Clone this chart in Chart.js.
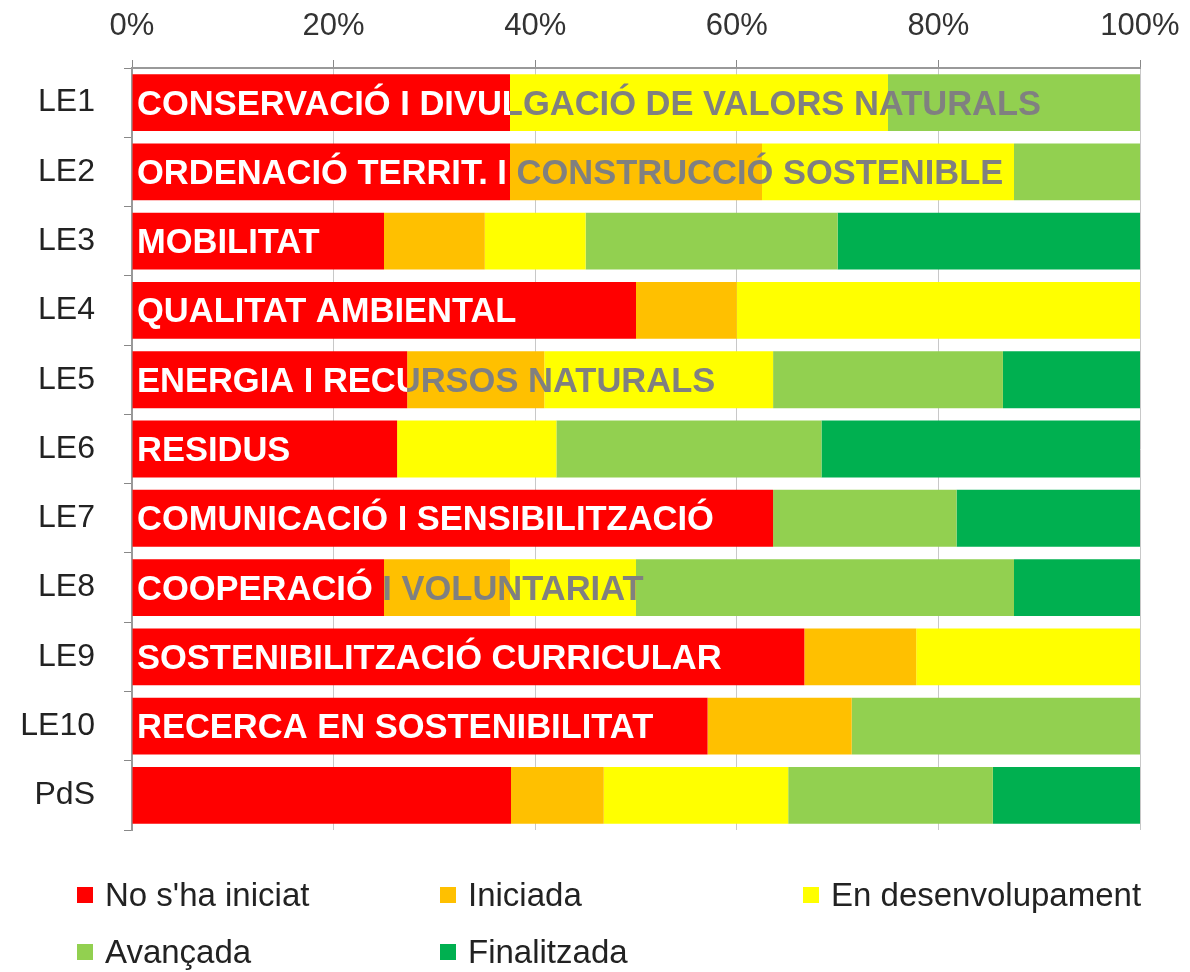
<!DOCTYPE html>
<html>
<head>
<meta charset="utf-8">
<script src="https://cdn.jsdelivr.net/npm/chart.js@4"></script>
<style>
  body { margin: 0; background: #fff; }
  #wrap { position: relative; width: 1190px; height: 972px; }
  #legend { position: absolute; left: 0; top: 0; width: 1190px; height: 972px; pointer-events: none; }
  .item { position: absolute; display: flex; align-items: center; font: 33px "Liberation Sans", Arial, sans-serif; color: #222; white-space: nowrap; transform: translateY(-50%); }
  .item span.box { display: inline-block; width: 16px; height: 16px; margin-right: 12px; }
</style>
</head>
<body>
<div id="wrap">
  <canvas id="chart" width="1190" height="972"></canvas>
  <div id="legend"></div>
</div>
<script>
const rows = ['LE1', 'LE2', 'LE3', 'LE4', 'LE5', 'LE6', 'LE7', 'LE8', 'LE9', 'LE10', 'PdS'];
const barTexts = [
  'CONSERVACIÓ I DIVULGACIÓ DE VALORS NATURALS',
  'ORDENACIÓ TERRIT. I CONSTRUCCIÓ SOSTENIBLE',
  'MOBILITAT',
  'QUALITAT AMBIENTAL',
  'ENERGIA I RECURSOS NATURALS',
  'RESIDUS',
  'COMUNICACIÓ I SENSIBILITZACIÓ',
  'COOPERACIÓ I VOLUNTARIAT',
  'SOSTENIBILITZACIÓ CURRICULAR',
  'RECERCA EN SOSTENIBILITAT',
  ''
];
const statusLabels = ["No s'ha iniciat", 'Iniciada', 'En desenvolupament', 'Avançada', 'Finalitzada'];
const statusColors = ['#ff0000', '#ffc000', '#ffff00', '#92d050', '#00b050'];

const noIniciat   = [37.5, 37.5, 25, 50, 27.3, 26.3, 63.6, 25,   66.7, 57.1, 37.6];
const iniciada    = [0,    25,   10, 10, 13.6, 0,    0,    12.5, 11.1, 14.3, 9.2];
const desenvolup  = [37.5, 25,   10, 40, 22.7, 15.8, 0,    12.5, 22.2, 0,    18.3];
const avancada    = [25,   12.5, 25, 0,  22.8, 26.3, 18.2, 37.5, 0,    28.6, 20.3];
const finalitzada = [0,    0,    30, 0,  13.6, 31.6, 18.2, 12.5, 0,    0,    14.6];
const xTicks = [0, 20, 40, 60, 80, 100];

const series = [noIniciat, iniciada, desenvolup, avancada, finalitzada];

// text over each bar: white on the red part, grey on the rest
const barTextPlugin = {
  id: 'barText',
  afterDatasetsDraw(chart) {
    const ctx = chart.ctx;
    const area = chart.chartArea;
    const meta = chart.getDatasetMeta(0);
    ctx.save();
    ctx.font = 'bold 34.5px "Liberation Sans", Arial, sans-serif';
    ctx.textBaseline = 'alphabetic';
    ctx.textAlign = 'left';
    meta.data.forEach((el, i) => {
      const txt = barTexts[i];
      if (!txt) return;
      const redEnd = el.x;
      const y = el.y + 12;
      const x = area.left + 5;
      ctx.save();
      ctx.beginPath();
      ctx.rect(area.left, el.y - 40, redEnd - area.left, 80);
      ctx.clip();
      ctx.fillStyle = '#ffffff';
      ctx.fillText(txt, x, y);
      ctx.restore();
      ctx.save();
      ctx.beginPath();
      ctx.rect(redEnd, el.y - 40, chart.width - redEnd, 80);
      ctx.clip();
      ctx.fillStyle = '#808080';
      ctx.fillText(txt, x, y);
      ctx.restore();
    });
    ctx.restore();
  }
};

new Chart(document.getElementById('chart'), {
  type: 'bar',
  data: {
    labels: rows,
    datasets: series.map((d, k) => ({
      label: statusLabels[k],
      data: d,
      backgroundColor: statusColors[k],
      borderWidth: 0,
      categoryPercentage: 0.82,
      barPercentage: 1
    }))
  },
  options: {
    indexAxis: 'y',
    responsive: false,
    animation: false,
    layout: { padding: { left: 0, right: 0, top: 0, bottom: 142 } },
    plugins: {
      legend: { display: false },
      tooltip: { enabled: false }
    },
    scales: {
      x: {
        position: 'top',
        stacked: true,
        min: 0,
        max: 100,
        afterBuildTicks: (scale) => { scale.ticks = xTicks.map(v => ({ value: v })); },
        afterFit: (scale) => { scale.height = 68; scale.paddingRight = 50; scale.paddingLeft = 0; },
        ticks: {
          callback: (v) => v + '%',
          color: '#333',
          padding: 15,
          maxRotation: 0,
          font: { family: '"Liberation Sans", Arial, sans-serif', size: 31 }
        },
        grid: { color: '#c8c8c8', tickLength: 8, tickColor: '#888', lineWidth: 1 },
        border: { color: '#999', width: 2 }
      },
      y: {
        stacked: true,
        afterFit: (scale) => { scale.width = 132; },
        ticks: {
          color: '#222',
          padding: 29,
          font: { family: '"Liberation Sans", Arial, sans-serif', size: 32 }
        },
        grid: { offset: true, drawOnChartArea: false, tickLength: 8, color: '#888' },
        border: { color: '#999', width: 2 }
      }
    }
  },
  plugins: [barTextPlugin]
});

// legend laid out in three columns like the original
const legendCols = [77, 440, 803];
const legendRows = [895, 952];
const legend = document.getElementById('legend');
statusLabels.forEach((lab, k) => {
  const div = document.createElement('div');
  div.className = 'item';
  div.style.left = legendCols[k % 3] + 'px';
  div.style.top = legendRows[Math.floor(k / 3)] + 'px';
  div.innerHTML = '<span class="box" style="background:' + statusColors[k] + '"></span>' + lab;
  legend.appendChild(div);
});
</script>
</body>
</html>
